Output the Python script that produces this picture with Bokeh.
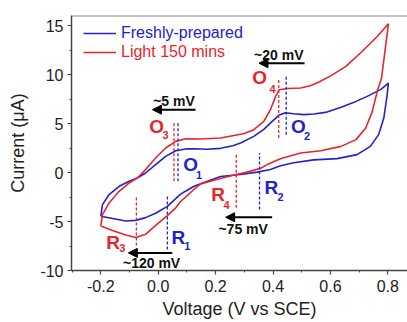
from bokeh.plotting import figure
from bokeh.models import (Range1d, SingleIntervalTicker, NumeralTickFormatter, Span,
                          Arrow, NormalHead, Legend, LegendItem)
from bokeh.core.properties import value
from bokeh.embed import file_html
from bokeh.resources import INLINE

# ---------------- data ----------------
# Freshly-prepared (blue): forward (anodic) branch then reverse (cathodic) branch
blue_fwd_x = [-0.200, -0.194, -0.171, -0.136, -0.101, -0.073, -0.044, -0.009, 0.026, 0.061,
              0.096, 0.130, 0.170, 0.217, 0.260, 0.287, 0.333, 0.368, 0.397, 0.420,
              0.443, 0.472, 0.507, 0.542, 0.588, 0.635, 0.680, 0.728, 0.776, 0.802]
blue_fwd_y = [-4.45, -3.27, -2.24, -1.40, -0.89, -0.55, -0.04, 0.82, 1.66, 2.24,
              2.42, 2.44, 2.38, 2.48, 2.75, 3.02, 3.70, 4.42, 5.23, 5.85,
              6.12, 6.02, 5.92, 5.98, 6.18, 6.65, 7.15, 7.79, 8.50, 9.14]
blue_rev_x = [0.802, 0.797, 0.786, 0.768, 0.739, 0.693, 0.623, 0.542, 0.472, 0.426,
              0.391, 0.345, 0.287, 0.217, 0.148, 0.125, 0.101, 0.078, 0.061, 0.032,
              -0.009, -0.044, -0.078, -0.113, -0.159, -0.200]
blue_rev_y = [9.14, 7.80, 5.57, 3.88, 2.68, 1.84, 1.43, 1.30, 1.00, 0.70,
              0.31, 0.05, -0.20, -0.40, -1.15, -1.40, -1.80, -2.20, -2.65, -3.45,
              -4.15, -4.60, -4.88, -4.95, -4.68, -4.45]

# Light 150 mins (red)
red_fwd_x = [-0.200, -0.194, -0.171, -0.136, -0.101, -0.073, -0.044, -0.009, 0.026, 0.061,
             0.096, 0.148, 0.217, 0.264, 0.300, 0.333, 0.368, 0.391, 0.409, 0.422,
             0.449, 0.496, 0.530, 0.560, 0.598, 0.654, 0.711, 0.763, 0.802]
red_fwd_y = [-5.45, -4.29, -3.10, -1.91, -1.06, -0.55, 0.31, 1.49, 2.51, 3.19,
             3.45, 3.43, 3.53, 3.80, 4.00, 4.39, 5.23, 6.43, 7.79, 8.47,
             8.60, 8.65, 8.88, 9.25, 9.83, 10.85, 12.40, 13.90, 15.20]
red_rev_x = [0.802, 0.790, 0.778, 0.763, 0.746, 0.723, 0.689, 0.637, 0.567, 0.496,
             0.426, 0.380, 0.357, 0.310, 0.264, 0.194, 0.148, 0.125, 0.101, 0.078,
             0.061, 0.032, -0.009, -0.044, -0.078, -0.113, -0.159, -0.200]
red_rev_y = [15.20, 12.40, 9.65, 8.30, 6.26, 4.55, 3.37, 2.68, 2.24, 2.00,
             1.42, 0.82, 0.45, 0.05, -0.25, -0.78, -1.15, -1.70, -2.35, -2.95,
             -3.60, -4.40, -5.40, -6.30, -6.62, -6.38, -5.92, -5.45]

series_names = ["Freshly-prepared", "Light 150 mins"]

# peak markers (dashed vertical segments): x, y_start, y_end
red_mark_x = [0.055, 0.420, 0.272, -0.076]
red_mark_y0 = [-0.89, 3.53, -3.60, -7.45]
red_mark_y1 = [5.23, 9.65, 1.84, -2.35]
blue_mark_x = [0.069, 0.446, 0.353, 0.032]
blue_mark_y0 = [-0.89, 3.88, -3.78, -7.86]
blue_mark_y1 = [5.16, 9.93, 2.00, -2.35]

# peak labels
red_lab_text = ["O", "O", "R", "R"]
red_lab_x = [-0.005, 0.353, 0.209, -0.157]
red_lab_y = [4.72, 9.72, -2.24, -7.09]
red_sub_text = ["3", "4", "4", "3"]
red_sub_x = [0.026, 0.398, 0.238, -0.125]
red_sub_y = [3.88, 8.57, -3.27, -7.69]
blue_lab_text = ["O", "O", "R", "R"]
blue_lab_x = [0.113, 0.488, 0.394, 0.070]
blue_lab_y = [0.82, 4.72, -1.48, -6.58]
blue_sub_text = ["1", "2", "2", "1"]
blue_sub_x = [0.142, 0.519, 0.426, 0.101]
blue_sub_y = [-0.20, 3.70, -2.52, -7.52]

# shift arrows: tail x, head x, y ; shift labels
arrow_x0 = [0.130, 0.510, 0.397, 0.049]
arrow_x1 = [-0.020, 0.351, 0.235, -0.104]
arrow_y = [6.43, 11.18, -4.56, -8.20]
shift_text = ["~5 mV", "~20 mV", "~75 mV", "~120 mV"]
shift_x = [0.055, 0.420, 0.296, -0.023]
shift_y = [7.28, 11.97, -5.80, -9.28]

x_ticks_interval = 0.2
y_ticks_interval = 5
x_label = "Voltage (V vs SCE)"
y_label = "Current (\u03bcA)"

# ---------------- figure ----------------
BLUE = "#2222cc"
RED = "#e8242c"
FONT = "Liberation Sans"

p = figure(width=407, height=322, output_backend="svg", toolbar_location=None,
           x_range=Range1d(-0.302, 0.8685), y_range=Range1d(-10, 16.05),
           min_border_left=71, min_border_top=15, min_border_bottom=52, min_border_right=0)
p.outline_line_color = None
p.xgrid.visible = False
p.ygrid.visible = False
p.background_fill_color = "white"
p.border_fill_color = "white"

p.add_layout(Span(location=16.05, dimension="width", line_color="#888888", line_width=2))

for ax in (p.xaxis[0], p.yaxis[0]):
    ax.axis_line_color = "#444444"
    ax.axis_line_width = 1.5
    ax.major_tick_line_color = "#444444"
    ax.minor_tick_line_color = "#444444"
    ax.major_tick_line_width = 1.2
    ax.major_tick_in = 0
    ax.major_tick_out = 4
    ax.minor_tick_in = 0
    ax.minor_tick_out = 2
    ax.major_label_text_font = FONT
    ax.major_label_text_font_size = "16px"
    ax.major_label_text_color = "#222222"
    ax.axis_label_text_font = FONT
    ax.axis_label_text_font_size = "18px"
    ax.axis_label_text_font_style = "normal"
    ax.axis_label_text_color = "#222222"

p.xaxis.ticker = SingleIntervalTicker(interval=x_ticks_interval, num_minor_ticks=2)
p.yaxis.ticker = SingleIntervalTicker(interval=y_ticks_interval, num_minor_ticks=2)
p.xaxis.formatter = NumeralTickFormatter(format="0.0")
p.yaxis.formatter = NumeralTickFormatter(format="0")
p.xaxis.axis_label = x_label
p.yaxis.axis_label = y_label
p.xaxis.major_label_standoff = 5
p.yaxis.major_label_standoff = 4
p.xaxis.axis_label_standoff = 4
p.yaxis.axis_label_standoff = 9

# curves
rb = p.line(blue_fwd_x + blue_rev_x, blue_fwd_y + blue_rev_y, line_color=BLUE, line_width=1.6)
rr = p.line(red_fwd_x + red_rev_x, red_fwd_y + red_rev_y, line_color=RED, line_width=1.6)

# dashed markers
p.segment(red_mark_x, red_mark_y0, red_mark_x, red_mark_y1, line_color=RED,
          line_width=1.3, line_dash="3 2")
p.segment(blue_mark_x, blue_mark_y0, blue_mark_x, blue_mark_y1, line_color=BLUE,
          line_width=1.3, line_dash="3 2")

# peak labels
p.text(red_lab_x, red_lab_y, text=red_lab_text, text_color=RED, text_font=value(FONT),
       text_font_size="19px", text_font_style="bold", text_align="center", text_baseline="middle")
p.text(red_sub_x, red_sub_y, text=red_sub_text, text_color=RED, text_font=value(FONT),
       text_font_size="11px", text_font_style="bold", text_align="center", text_baseline="middle")
p.text(blue_lab_x, blue_lab_y, text=blue_lab_text, text_color=BLUE, text_font=value(FONT),
       text_font_size="19px", text_font_style="bold", text_align="center", text_baseline="middle")
p.text(blue_sub_x, blue_sub_y, text=blue_sub_text, text_color=BLUE, text_font=value(FONT),
       text_font_size="11px", text_font_style="bold", text_align="center", text_baseline="middle")

# arrows and shift labels
for x0, x1, yy in zip(arrow_x0, arrow_x1, arrow_y):
    p.add_layout(Arrow(x_start=x0, y_start=yy, x_end=x1, y_end=yy, line_color="black",
                       line_width=2, end=NormalHead(size=9, fill_color="black",
                                                    line_color="black", line_width=1)))
p.text(shift_x, shift_y, text=shift_text, text_color="#111111", text_font=value(FONT),
       text_font_size="14px", text_font_style="bold", text_align="center", text_baseline="middle")

# legends (one per series so each label keeps its series colour)
for r, name, col, ypos in ((rb, series_names[0], BLUE, 228), (rr, series_names[1], RED, 209)):
    lg = Legend(items=[LegendItem(label=name, renderers=[r])], location=(12, ypos),
                label_text_color=col, label_text_font=FONT, label_text_font_size="16px",
                glyph_width=33, glyph_height=18, label_height=18, label_standoff=5,
                padding=0, margin=0, spacing=0, border_line_color=None,
                background_fill_alpha=0)
    p.add_layout(lg)

open("out.html", "w").write(file_html(p, INLINE))
